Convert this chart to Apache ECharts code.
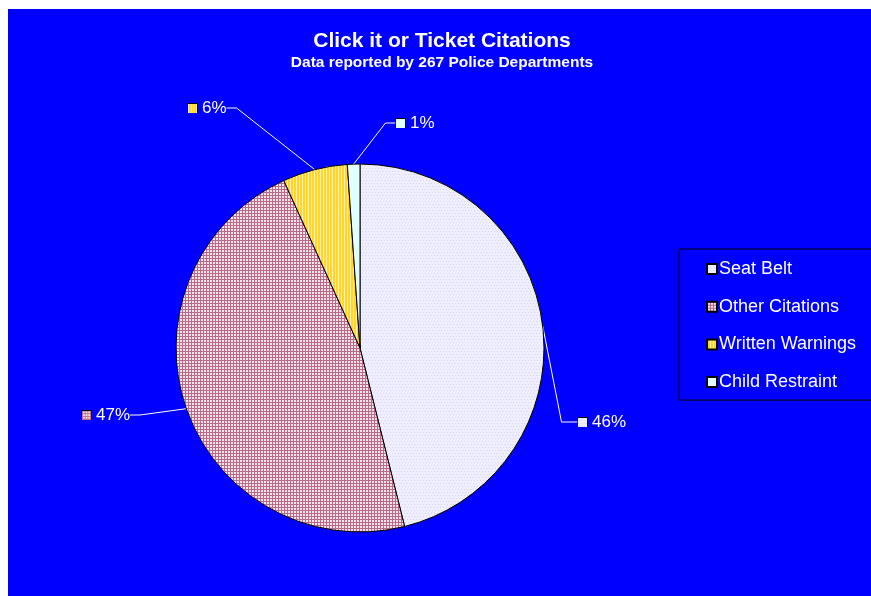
<!DOCTYPE html>
<html>
<head>
<meta charset="utf-8">
<script src="https://cdn.jsdelivr.net/npm/echarts@6/dist/echarts.min.js"></script>
<style>
  html, body { margin: 0; padding: 0; background: #ffffff; }
  #chart { position: absolute; left: 8px; top: 9px; width: 863px; height: 587px; }
</style>
</head>
<body>
<div id="chart"></div>
<script>
// Citation categories and their shares (percent of all reported citations)
const categories = ['Seat Belt', 'Other Citations', 'Written Warnings', 'Child Restraint'];
const shares = [46.1, 47.1, 5.7, 1.1];

const titleText = 'Click it or Ticket Citations';
const subtitleText = 'Data reported by 267 Police Departments';

// Where each percentage label sits (left edge, vertical middle), in chart pixels
const labelAnchors = [[570, 413], [74, 406], [180, 99], [388, 114]];

const FONT = 'Arial, "Liberation Sans", sans-serif';

// Small repeating fill tiles for the slices
function makeTile(size, draw) {
  const c = document.createElement('canvas');
  c.width = size; c.height = size;
  draw(c.getContext('2d'), size);
  return c;
}
function dotsTile(ctx, s) {
  ctx.fillStyle = '#eeeeff'; ctx.fillRect(0, 0, s, s);
  ctx.fillStyle = '#d6d6f4';
  for (let y = 0; y < s; y += 3) for (let x = (y / 3) % 2 ? 1 : 0; x < s; x += 3) ctx.fillRect(x, y, 1, 1);
}
function gridTile(ctx, s) {
  ctx.fillStyle = '#f2e4ea'; ctx.fillRect(0, 0, s, s);
  ctx.fillStyle = '#b86a86';
  for (let i = 0; i < s; i += 3) { ctx.fillRect(i, 0, 1, s); ctx.fillRect(0, i, s, 1); }
}
function stripeTile(ctx, s) {
  ctx.fillStyle = '#ffd52e'; ctx.fillRect(0, 0, s, s);
  ctx.fillStyle = '#fff1a6';
  for (let x = 0; x < s; x += 3) ctx.fillRect(x, 0, 1, s);
}
function plainTile(ctx, s) {
  ctx.fillStyle = '#e2ffff'; ctx.fillRect(0, 0, s, s);
}
const tileDrawers = [dotsTile, gridTile, stripeTile, plainTile];
const fills = tileDrawers.map(d => ({ image: makeTile(12, d), repeat: 'repeat' }));
const keys = tileDrawers.map(d => makeTile(10, d));

const rich = {
  t: { color: '#ffffff', fontSize: 17, fontFamily: FONT, padding: [0, 0, 0, 5] },
  // invisible trailing block: widens the label box so its leader line meets it from the left
  pad: { width: 90, height: 2, backgroundColor: 'rgba(0,0,255,0)' }
};
keys.forEach((k, i) => {
  rich['k' + i] = { width: 9, height: 9, backgroundColor: { image: k }, borderColor: '#000', borderWidth: 1 };
});

const data = categories.map((name, i) => ({
  name,
  value: shares[i],
  itemStyle: { color: fills[i] },
  label: { formatter: '{k' + i + '|}{t|{d}%}' + (i === 0 ? '{pad|}' : '') },
  labelLine: { length2: i === 0 ? 16 : 10 }
}));

const chart = echarts.init(document.getElementById('chart'), null, { renderer: 'canvas' });
chart.setOption({
  backgroundColor: '#0000ff',
  animation: false,
  title: {
    text: titleText,
    subtext: subtitleText,
    left: 429,
    top: 17,
    textAlign: 'center',
    itemGap: 3,
    textStyle: { color: '#ffffff', fontSize: 21, fontWeight: 'bold', fontFamily: FONT },
    subtextStyle: { color: '#ffffff', fontSize: 15.5, fontWeight: 'bold', fontFamily: FONT }
  },
  legend: {
    orient: 'vertical',
    left: 671,
    top: 240,
    data: categories,
    icon: 'rect',
    itemWidth: 10,
    itemHeight: 10,
    itemGap: 19.7,
    padding: [11, 20, 9, 27],
    borderColor: '#000000',
    borderWidth: 1,
    textStyle: { color: '#ffffff', fontSize: 18, fontFamily: FONT, lineHeight: 18, padding: [0, 0, 0, -3] }
  },
  series: [{
    type: 'pie',
    center: [352, 339],
    radius: 184,
    startAngle: 90,
    clockwise: true,
    percentPrecision: 0,
    avoidLabelOverlap: false,
    itemStyle: { borderColor: '#000000', borderWidth: 1 },
    label: { show: true, position: 'outside', rich },
    labelLine: { show: true, length: 10, length2: 10, lineStyle: { color: '#ffffff', width: 1 } },
    labelLayout: function (p) {
      const a = labelAnchors[p.dataIndex];
      return { x: a[0], y: a[1], align: 'left', verticalAlign: 'middle' };
    },
    emphasis: { disabled: true },
    data
  }]
});
</script>
</body>
</html>
